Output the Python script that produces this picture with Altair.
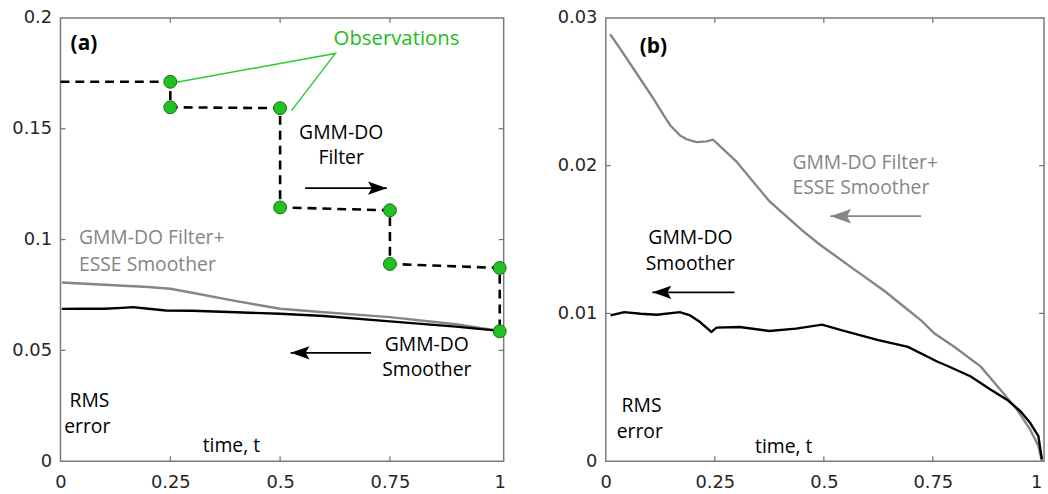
import altair as alt
import pandas as pd

FONT = "Open Sans"
TICK_FONT = "DejaVu Sans"
GREEN = "#22c022"
GRAY = "#858585"

# ---------------- panel (a) data ----------------
obs_t = [0.25, 0.25, 0.5, 0.5, 0.75, 0.75, 1.0, 1.0]
obs_v = [0.1712, 0.1597, 0.1593, 0.1145, 0.1132, 0.0890, 0.0872, 0.0586]

filt_t = [0.0, 0.25, 0.25, 0.5, 0.5, 0.75, 0.75, 1.0, 1.0]
filt_v = [0.1712, 0.1712, 0.1597, 0.1593, 0.1145, 0.1132, 0.0890, 0.0872, 0.0586]

esse_a_t = [0.003, 0.1, 0.2, 0.25, 0.3, 0.4, 0.5, 0.6, 0.75, 0.9, 1.0]
esse_a_v = [0.0806, 0.0796, 0.0786, 0.0778, 0.0760, 0.0722, 0.0688, 0.0672, 0.0650, 0.0618, 0.0588]

smooth_a_t = [0.003, 0.05, 0.1, 0.14, 0.165, 0.2, 0.24, 0.3, 0.4, 0.5, 0.6, 0.75, 0.9, 1.0]
smooth_a_v = [0.0687, 0.0688, 0.0688, 0.0692, 0.0695, 0.0688, 0.0680, 0.0679, 0.0672, 0.0665,
              0.0655, 0.0631, 0.0607, 0.0588]

# ---------------- panel (b) data ----------------
esse_b_t = [0.010, 0.034, 0.072, 0.110, 0.133, 0.148, 0.170, 0.186, 0.208, 0.231, 0.246, 0.299,
            0.375, 0.451, 0.489, 0.564, 0.640, 0.686, 0.723, 0.754, 0.799, 0.860, 0.905, 0.943,
            0.973, 0.992, 1.0]
esse_b_v = [0.0289, 0.02787, 0.02619, 0.02451, 0.0234, 0.02272, 0.02205, 0.02178, 0.0216, 0.02165,
            0.02176, 0.0203, 0.0176, 0.0156, 0.0147, 0.0131, 0.0115, 0.0104, 0.00953, 0.00864,
            0.00774, 0.0064, 0.00483, 0.00349, 0.00215, 0.00103, 0.0]

smooth_b_t = [0.011, 0.042, 0.080, 0.117, 0.170, 0.193, 0.216, 0.242, 0.254, 0.307, 0.375, 0.436,
              0.496, 0.542, 0.625, 0.693, 0.761, 0.784, 0.837, 0.883, 0.920, 0.951, 0.973, 0.992,
              1.0]
smooth_b_v = [0.00987, 0.01009, 0.00998, 0.00991, 0.01009, 0.00987, 0.00942, 0.00875, 0.00904,
              0.00908, 0.00881, 0.00897, 0.00924, 0.00886, 0.00819, 0.00774, 0.00673, 0.00644,
              0.00573, 0.00483, 0.00416, 0.00338, 0.00260, 0.00170, 0.00013]

x_ticks = [0, 0.25, 0.5, 0.75, 1]
y_ticks_a = [0, 0.05, 0.1, 0.15, 0.2]
y_ticks_b = [0, 0.01, 0.02, 0.03]

# annotation positions (data coordinates)
ann_a_center = pd.DataFrame({
    "t": [0.639, 0.639, 0.834, 0.834, 0.066, 0.061, 0.389],
    "v": [0.1482, 0.1366, 0.0523, 0.0412, 0.0270, 0.0153, 0.0069],
    "text": ["GMM-DO", "Filter", "GMM-DO", "Smoother", "RMS", "error", "time, t"],
})
ann_a_gray = pd.DataFrame({"t": [0.042, 0.042], "v": [0.1005, 0.0884],
                           "text": ["GMM-DO Filter+", "ESSE Smoother"]})
ann_a_obs = pd.DataFrame({"t": [0.765], "v": [0.1903], "text": ["Observations"]})
ann_a_tag = pd.DataFrame({"t": [0.023], "v": [0.1884], "text": ["(a)"]})
leader_a = pd.DataFrame({"t": [0.261, 0.626, 0.526], "v": [0.1709, 0.1840, 0.1582], "i": [0, 1, 2]})
arrows_a = pd.DataFrame({"t0": [0.557, 0.707], "t1": [0.743, 0.524], "v": [0.1232, 0.0489],
                         "dir": ["right", "left"]})

ann_b_center = pd.DataFrame({
    "t": [0.194, 0.194, 0.082, 0.078, 0.408],
    "v": [0.01512, 0.01334, 0.00371, 0.00199, 0.00096],
    "text": ["GMM-DO", "Smoother", "RMS", "error", "time, t"],
})
ann_b_gray = pd.DataFrame({"t": [0.428, 0.428], "v": [0.02015, 0.01848],
                           "text": ["GMM-DO Filter+", "ESSE Smoother"]})
ann_b_tag = pd.DataFrame({"t": [0.078], "v": [0.02805], "text": ["(b)"]})
arrows_b_black = pd.DataFrame({"t0": [0.295], "t1": [0.107], "v": [0.01143], "dir": ["left"]})
arrows_b_gray = pd.DataFrame({"t0": [0.723], "t1": [0.515], "v": [0.01658], "dir": ["left"]})

HEAD_RIGHT = "M0,0 L-2,-0.7 L-1.6,0 L-2,0.7 Z"
HEAD_LEFT = "M0,0 L2,-0.7 L1.6,0 L2,0.7 Z"
LABEL_EXPR = "toString(datum.value)"
ANN_SIZE = 19.5


def series(ts, vs):
    return pd.DataFrame({"t": ts, "v": vs, "i": list(range(len(ts)))})


def arrows(df, X, Y, color, size):
    shaft = alt.Chart(df).mark_rule(color=color, strokeWidth=1.8).encode(
        x=alt.X("t0:Q", scale=X), x2="t1:Q", y=alt.Y("v:Q", scale=Y))
    layers = [shaft]
    for d, path in (("right", HEAD_RIGHT), ("left", HEAD_LEFT)):
        sub = df[df["dir"] == d]
        if len(sub):
            layers.append(alt.Chart(sub).mark_point(
                shape=path, filled=True, color=color, opacity=1, size=size, strokeWidth=0
            ).encode(x=alt.X("t1:Q", scale=X), y=alt.Y("v:Q", scale=Y)))
    return layers


def frame_ticks(W, H, X, Y, yt):
    xt = pd.DataFrame({"t": [0.25, 0.5, 0.75]})
    ytd = pd.DataFrame({"v": yt})
    tick = dict(color="#707070", strokeWidth=1.2)
    return [
        alt.Chart(xt).mark_rule(**tick).encode(x=alt.X("t:Q", scale=X), y=alt.value(H), y2=alt.value(H - 5)),
        alt.Chart(xt).mark_rule(**tick).encode(x=alt.X("t:Q", scale=X), y=alt.value(0), y2=alt.value(5)),
        alt.Chart(ytd).mark_rule(**tick).encode(y=alt.Y("v:Q", scale=Y), x=alt.value(0), x2=alt.value(5)),
        alt.Chart(ytd).mark_rule(**tick).encode(y=alt.Y("v:Q", scale=Y), x=alt.value(W), x2=alt.value(W - 5)),
    ]


def text_layer(df, X, Y, color, align="center", size=ANN_SIZE, weight="normal"):
    return alt.Chart(df).mark_text(
        font=FONT, fontSize=size, color=color, align=align, baseline="middle", fontWeight=weight
    ).encode(x=alt.X("t:Q", scale=X), y=alt.Y("v:Q", scale=Y), text="text:N")


# ---------------- panel (a) ----------------
WA, HA = 447, 447
XA = alt.Scale(domain=[0, 1.009], nice=False, zero=False)
YA = alt.Scale(domain=[0, 0.2], nice=False)

base_a = alt.Chart(series(esse_a_t, esse_a_v)).mark_line(color=GRAY, strokeWidth=2.4).encode(
    x=alt.X("t:Q", scale=XA, axis=alt.Axis(values=x_ticks, labelExpr=LABEL_EXPR, title=None)),
    y=alt.Y("v:Q", scale=YA, axis=alt.Axis(values=y_ticks_a, labelExpr=LABEL_EXPR, title=None)),
    order="i:Q",
)
smooth_a = alt.Chart(series(smooth_a_t, smooth_a_v)).mark_line(color="black", strokeWidth=2.4).encode(
    x=alt.X("t:Q", scale=XA), y=alt.Y("v:Q", scale=YA), order="i:Q")
filt_a = alt.Chart(series(filt_t, filt_v)).mark_line(
    color="black", strokeWidth=2.6, strokeDash=[9, 6]).encode(
    x=alt.X("t:Q", scale=XA), y=alt.Y("v:Q", scale=YA), order="i:Q")
leader = alt.Chart(leader_a).mark_line(color="#2ecc2e", strokeWidth=1.5).encode(
    x=alt.X("t:Q", scale=XA), y=alt.Y("v:Q", scale=YA), order="i:Q")
obs_pts = alt.Chart(pd.DataFrame({"t": obs_t, "v": obs_v})).mark_point(
    filled=True, shape="circle", size=170, color=GREEN, stroke="#167016", strokeWidth=1, opacity=1
).encode(x=alt.X("t:Q", scale=XA), y=alt.Y("v:Q", scale=YA))

panel_a = alt.layer(
    *frame_ticks(WA, HA, XA, YA, [0.05, 0.1, 0.15]),
    base_a, smooth_a, filt_a, leader, obs_pts,
    *arrows(arrows_a, XA, YA, "black", 361),
    text_layer(ann_a_center, XA, YA, "black"),
    text_layer(ann_a_gray, XA, YA, GRAY, align="left"),
    text_layer(ann_a_obs, XA, YA, "#22bb22", size=20.5),
    text_layer(ann_a_tag, XA, YA, "black", align="left", size=21, weight="bold"),
).properties(width=WA, height=HA)

# ---------------- panel (b) ----------------
WB, HB = 442, 447
XB = alt.Scale(domain=[0, 1.005], nice=False, zero=False)
YB = alt.Scale(domain=[0, 0.03], nice=False)

# the last x label sits against the right edge of the figure
edge_align = {"condition": {"test": "datum.value == 1", "value": "right"}, "value": "center"}

base_b = alt.Chart(series(esse_b_t, esse_b_v)).mark_line(color=GRAY, strokeWidth=2.4).encode(
    x=alt.X("t:Q", scale=XB, axis=alt.Axis(values=x_ticks, labelExpr=LABEL_EXPR, title=None,
                                           labelAlign=edge_align)),
    y=alt.Y("v:Q", scale=YB, axis=alt.Axis(values=y_ticks_b, labelExpr=LABEL_EXPR, title=None)),
    order="i:Q",
)
smooth_b = alt.Chart(series(smooth_b_t, smooth_b_v)).mark_line(color="black", strokeWidth=2.4).encode(
    x=alt.X("t:Q", scale=XB), y=alt.Y("v:Q", scale=YB), order="i:Q")

panel_b = alt.layer(
    *frame_ticks(WB, HB, XB, YB, [0.01, 0.02]),
    base_b, smooth_b,
    *arrows(arrows_b_black, XB, YB, "black", 361),
    *arrows(arrows_b_gray, XB, YB, GRAY, 440),
    text_layer(ann_b_center, XB, YB, "black"),
    text_layer(ann_b_gray, XB, YB, GRAY, align="left"),
    text_layer(ann_b_tag, XB, YB, "black", align="left", size=21, weight="bold"),
).properties(width=WB, height=HB)

chart = alt.hconcat(panel_a, panel_b, spacing=47).properties(
    padding={"left": 11, "top": 6, "right": 0, "bottom": 0}
).configure_view(
    stroke="#7a7a7a", strokeWidth=1.5
).configure_axis(
    domain=False, ticks=False, grid=False, labelFont=TICK_FONT, labelFontSize=18,
    labelColor="#262626", labelFlush=False,
).configure_axisY(labelPadding=9).configure_axisX(labelPadding=13)

chart.save("out.html", embed_options={"renderer": "svg", "actions": False})
